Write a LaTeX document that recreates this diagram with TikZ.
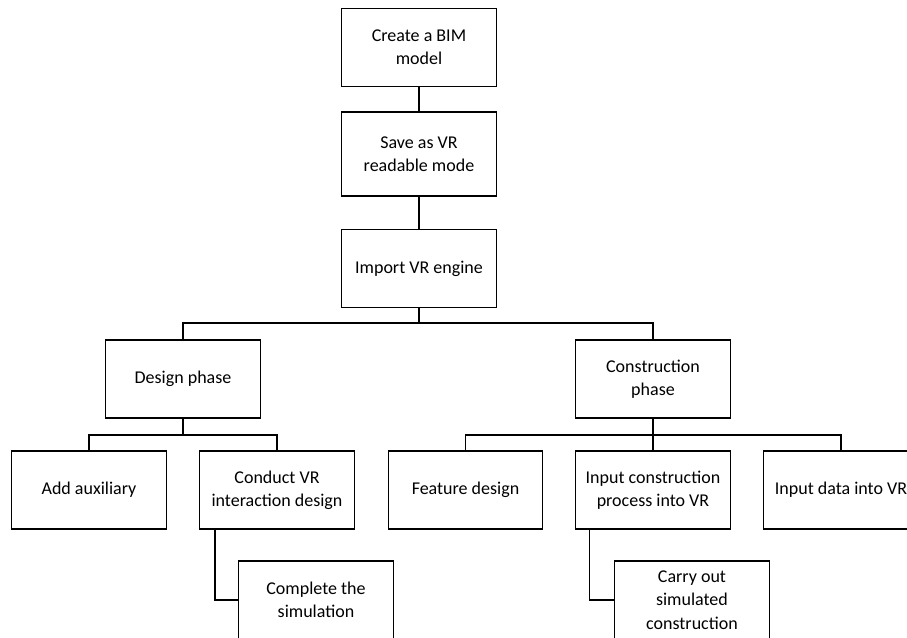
\documentclass[tikz,border=0pt]{standalone}
\usepackage{fontspec}
\setmainfont{Carlito}
\tikzset{
    box/.style={draw, line width=0.9pt, minimum width=116pt, minimum height=58.5pt,
        align=center, inner sep=2pt, font=\fontsize{13.5}{17.5}\selectfont},
    link/.style={line width=0.9pt}
}
\begin{document}
\begin{tikzpicture}[x=0.75pt, y=-0.75pt]
    % 画布范围
    \clip (0,0) rectangle (907,637);
    
    % 主流程
    \node[box] (bim) at (419, 47.5) {Create a BIM\\model};
    \node[box, minimum height=63pt] (save) at (419, 154) {Save as VR\\readable mode};
    \node[box] (import) at (419, 268.5) {Import VR engine};
    
    % 两个阶段
    \node[box] (design) at (183, 379) {Design phase};
    \node[box] (constr) at (653, 379) {Construction\\phase};
    
    % 子任务
    \node[box] (aux) at (89, 490) {Add auxiliary};
    \node[box] (conduct) at (277, 490) {Conduct VR\\interaction design};
    \node[box] (feature) at (465.5, 490) {Feature design};
    \node[box] (inproc) at (653, 490) {Input construction\\process into VR};
    \node[box] (indata) at (841, 490) {Input data into VR};
    \node[box] (sim) at (316, 600) {Complete the\\simulation};
    \node[box] (carry) at (692, 600) {Carry out\\simulated\\construction};
    
    % 分支点
    \coordinate (b1) at (419, 323);
    \coordinate (b2) at (183, 435);
    \coordinate (b3) at (653, 435);
    
    % 画连线
    \draw[link] (bim) -- (save);
    \draw[link] (save) -- (import);
    \draw[link] (import) -- (b1) -| (design);
    \draw[link] (b1) -| (constr);
    \draw[link] (design) -- (b2) -| (aux);
    \draw[link] (b2) -| (conduct);
    \draw[link] (constr) -- (b3) -| (feature);
    \draw[link] (b3) -- (inproc);
    \draw[link] (b3) -| (indata);
    \draw[link] ([xshift=12pt]conduct.south west) |- (sim.west);
    \draw[link] ([xshift=11pt]inproc.south west) |- (carry.west);
\end{tikzpicture}
\end{document}
